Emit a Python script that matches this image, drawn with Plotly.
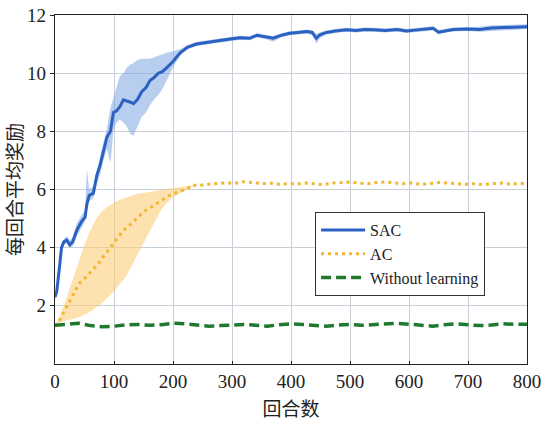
import plotly.graph_objects as go

# ---------------- data ----------------
sac_x = [0, 3, 8, 11, 15, 20, 25, 30, 37, 45,
         51, 54, 58, 65, 71, 76, 82, 88, 94, 99,
         104, 110, 116, 122, 128, 133, 140, 147, 154, 161,
         168, 175, 182, 190, 200, 212, 225, 240, 255, 270,
         285, 300, 314, 330, 342, 355, 370, 383, 398, 412,
         427, 436, 443, 449, 460, 475, 494, 510, 525, 540,
         560, 580, 596, 610, 625, 641, 650, 660, 675, 698,
         720, 740, 760, 771, 785, 800]
sac_mean = [2.3, 2.5, 3.4, 4.0, 4.2, 4.26, 4.1, 4.2, 4.6, 4.9,
            5.05, 5.5, 5.8, 5.87, 6.5, 6.8, 7.3, 7.8, 8.0, 8.65,
            8.7, 8.85, 9.08, 9.05, 9.0, 8.95, 9.1, 9.36, 9.5, 9.75,
            9.85, 10.0, 10.05, 10.2, 10.4, 10.7, 10.9, 11.0, 11.05, 11.1,
            11.15, 11.18, 11.22, 11.2, 11.3, 11.25, 11.2, 11.3, 11.37, 11.4,
            11.43, 11.4, 11.2, 11.32, 11.4, 11.45, 11.49, 11.47, 11.5, 11.49,
            11.47, 11.5, 11.45, 11.48, 11.5, 11.54, 11.41, 11.45, 11.5, 11.52,
            11.5, 11.55, 11.57, 11.56, 11.58, 11.6]
sac_lo = [2.2, 2.4, 3.2, 3.85, 4.1, 4.15, 4.0, 4.05, 4.4, 4.7,
          4.9, 5.3, 5.6, 5.7, 6.2, 6.5, 7.0, 7.4, 6.9, 8.0,
          8.3, 8.4, 8.3, 8.15, 7.9, 7.85, 8.2, 8.5, 8.65, 8.9,
          9.1, 9.25, 9.45, 9.8, 10.2, 10.6, 10.82, 10.93, 10.98, 11.03,
          11.08, 11.11, 11.15, 11.13, 11.23, 11.18, 11.08, 11.23, 11.3, 11.33,
          11.36, 11.3, 11.02, 11.2, 11.33, 11.38, 11.42, 11.4, 11.43, 11.42,
          11.4, 11.43, 11.38, 11.41, 11.43, 11.47, 11.33, 11.38, 11.43, 11.45,
          11.42, 11.45, 11.48, 11.48, 11.5, 11.52]
sac_hi = [2.4, 2.6, 3.6, 4.15, 4.3, 4.4, 4.25, 4.35, 4.85, 5.1,
          5.3, 6.7, 6.0, 6.1, 6.7, 7.1, 7.6, 8.1, 8.8, 9.2,
          9.5, 9.9, 10.0, 10.2, 10.3, 10.35, 10.45, 10.5, 10.5, 10.5,
          10.55, 10.6, 10.65, 10.7, 10.75, 10.82, 10.97, 11.07, 11.12, 11.17,
          11.22, 11.25, 11.29, 11.27, 11.37, 11.32, 11.28, 11.37, 11.44, 11.47,
          11.5, 11.47, 11.35, 11.4, 11.47, 11.52, 11.56, 11.54, 11.57, 11.56,
          11.54, 11.57, 11.52, 11.55, 11.57, 11.61, 11.48, 11.52, 11.57, 11.59,
          11.6, 11.65, 11.66, 11.64, 11.66, 11.68]

ac_x = [0, 8, 15, 22, 30, 40, 48, 56, 64, 72,
        82, 90, 99, 108, 116, 125, 133, 140, 147, 155,
        164, 172, 180, 188, 195, 204, 212, 220, 226, 232,
        245, 260, 275, 290, 305, 320, 335, 350, 365, 380,
        395, 410, 425, 440, 455, 470, 485, 500, 515, 530,
        545, 560, 575, 590, 605, 620, 635, 650, 665, 680,
        695, 710, 725, 740, 755, 770, 785, 800]
ac_mean = [1.3, 1.5, 1.8, 2.05, 2.35, 2.75, 2.9, 3.06, 3.25, 3.4,
           3.69, 3.9, 4.15, 4.4, 4.6, 4.75, 4.89, 5.05, 5.18, 5.3,
           5.41, 5.52, 5.64, 5.72, 5.81, 5.88, 5.93, 5.98, 6.05, 6.15,
           6.14, 6.18, 6.2, 6.23, 6.21, 6.27, 6.24, 6.2, 6.22, 6.18,
           6.2, 6.19, 6.22, 6.2, 6.17, 6.22, 6.25, 6.26, 6.22, 6.2,
           6.24, 6.26, 6.23, 6.2, 6.22, 6.18, 6.2, 6.24, 6.22, 6.2,
           6.18, 6.2, 6.17, 6.2, 6.22, 6.19, 6.2, 6.21]

ac_band_x = [0, 10, 20, 30, 40, 50, 60, 70, 80, 90, 100, 110, 120, 130,
             140, 150, 160, 170, 180, 190, 200, 210, 220, 230, 240]
ac_lo = [1.3, 1.45, 1.5, 1.55, 1.6, 1.7, 1.8, 1.95, 2.1, 2.3, 2.5, 2.75, 3.0,
         3.35, 3.75, 4.15, 4.55, 4.95, 5.3, 5.55, 5.72, 5.85, 5.95, 6.08, 6.14]
ac_hi = [1.3, 1.75, 2.3, 2.9, 3.45, 4.1, 4.6, 5.0, 5.25, 5.42, 5.55, 5.65, 5.72,
         5.78, 5.85, 5.88, 5.92, 5.96, 5.99, 6.02, 6.05, 6.08, 6.12, 6.15, 6.16]

wl_x = list(range(0, 801, 20))
wl_mean = [1.33, 1.38, 1.4, 1.32, 1.28, 1.3, 1.35, 1.36, 1.33, 1.35,
           1.4, 1.38, 1.33, 1.3, 1.32, 1.34, 1.36, 1.33, 1.3, 1.35,
           1.38, 1.36, 1.32, 1.3, 1.34, 1.36, 1.33, 1.35, 1.38, 1.4,
           1.37, 1.33, 1.3, 1.35, 1.38, 1.35, 1.32, 1.34, 1.38, 1.36, 1.37]

x_ticks = [0, 100, 200, 300, 400, 500, 600, 700, 800]
y_ticks = [2, 4, 6, 8, 10, 12]
series_names = ["SAC", "AC", "Without learning"]

# ---------------- figure ----------------
SERIF = "Liberation Serif, Times New Roman, serif"
CJK = "Noto Sans CJK SC"

fig = go.Figure()

fig.add_trace(go.Scatter(
    x=sac_x + sac_x[::-1], y=sac_hi + sac_lo[::-1],
    fill="toself", fillcolor="rgba(125,165,225,0.55)",
    line=dict(width=0), hoverinfo="skip", showlegend=False))
fig.add_trace(go.Scatter(
    x=ac_band_x + ac_band_x[::-1], y=ac_hi + ac_lo[::-1],
    fill="toself", fillcolor="rgba(252,205,120,0.6)",
    line=dict(width=0), hoverinfo="skip", showlegend=False))

fig.add_trace(go.Scatter(
    x=sac_x, y=sac_mean, mode="lines", name=series_names[0],
    line=dict(color="#2b62c2", width=3)))
fig.add_trace(go.Scatter(
    x=ac_x, y=ac_mean, mode="lines", name=series_names[1],
    line=dict(color="#f2b530", width=3, dash="3px,4px")))
fig.add_trace(go.Scatter(
    x=wl_x, y=wl_mean, mode="lines", name=series_names[2],
    line=dict(color="#1f7a30", width=3.5, dash="10px,5px")))

fig.update_layout(
    width=545, height=421,
    margin=dict(l=55, r=18, t=15, b=57, autoexpand=False),
    paper_bgcolor="white", plot_bgcolor="white",
    font=dict(family=SERIF, size=19, color="#222"),
    legend=dict(
        x=0.551, y=0.4355, xanchor="left", yanchor="top",
        bgcolor="white", bordercolor="#333", borderwidth=1,
        font=dict(family=SERIF, size=16, color="#222"),
        itemwidth=44, entrywidth=180, tracegroupgap=0),
    xaxis=dict(
        range=[0, 800], tickvals=x_ticks, ticktext=[str(v) for v in x_ticks],
        showgrid=True, gridcolor="#c8cfd9", gridwidth=1,
        showline=True, linecolor="#222", linewidth=1.2, mirror=True,
        ticks="inside", ticklen=3, tickcolor="#222", zeroline=False,
        automargin=False,
        title=dict(text="回合数", font=dict(family=CJK, size=19))),
    yaxis=dict(
        range=[0, 12], tickvals=y_ticks, ticktext=[str(v) for v in y_ticks],
        showgrid=True, gridcolor="#c8cfd9", gridwidth=1,
        showline=True, linecolor="#222", linewidth=1.2, mirror=True,
        ticks="outside", ticklen=4, tickcolor="#222", zeroline=False,
        automargin=False,
        title=dict(text="每回合平均奖励", font=dict(family=CJK, size=19))),
)

fig.write_html(
    "out.html",
    config={"displayModeBar": False},
    post_script="document.body.style.margin='0px';document.body.style.overflow='hidden';",
)
